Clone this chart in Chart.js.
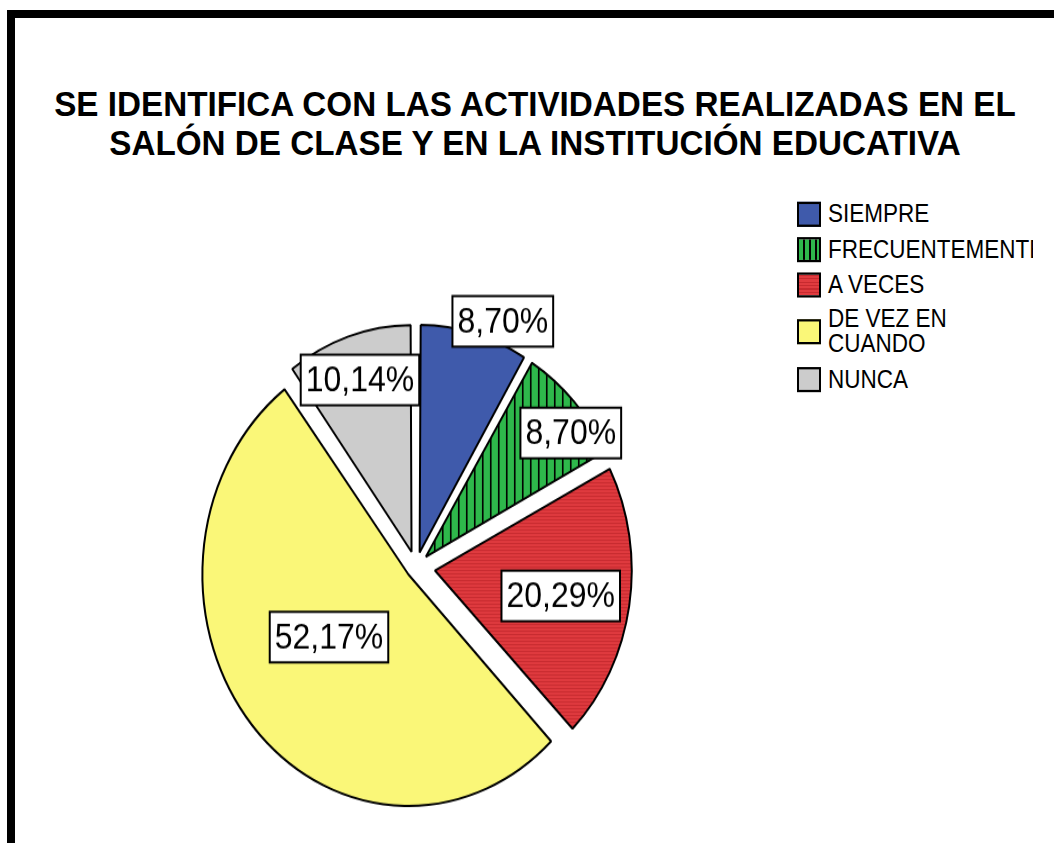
<!DOCTYPE html>
<html>
<head>
<meta charset="utf-8">
<script src="https://cdn.jsdelivr.net/npm/chart.js@4.4.1/dist/chart.umd.min.js"></script>
<style>
    html, body { margin: 0; padding: 0; background: #fff; overflow: hidden; }
    body { width: 1054px; height: 843px; position: relative; }
    #frame { position: absolute; left: 7px; top: 10px; right: -20px; bottom: -20px; border-top: 8px solid #000; border-left: 8px solid #000; }
    /* text is stretched vertically, like the original export */
    #stage { position: absolute; left: 0; top: 0; width: 1054px; height: 740px; transform: scaleY(1.14); transform-origin: 0 0; }
    #title { position: absolute; left: 0; top: 75px; width: 1070px; text-align: center; font: bold 30.5px "Liberation Sans", Arial, sans-serif; line-height: 33.5px; color: #000; transform: scaleX(1.09); transform-origin: 535px 0; }
    #chartBox { position: absolute; left: 0; top: 0; width: 1054px; height: 760px; transform: scaleY(1.124); transform-origin: 0 0; }
    #legend { position: absolute; left: 797px; top: 173px; width: 236px; overflow: hidden; font: 22.5px "Liberation Sans", Arial, sans-serif; color: #000; }
    .row { display: flex; align-items: center; padding: 4.35px 0; line-height: 22px; }
    .sw { flex: none; width: 20px; height: 18px; border: 2px solid #000; margin-right: 7px; }
    .txt { max-width: 140px; white-space: normal; }
    .txt.one { white-space: nowrap; }
</style>
</head>
<body>
<div id="frame"></div>
<div id="stage">
    <div id="title">SE IDENTIFICA CON LAS ACTIVIDADES REALIZADAS EN EL<br>SALÓN DE CLASE Y EN LA INSTITUCIÓN EDUCATIVA</div>
    <div id="legend"></div>
</div>
<div id="chartBox"><canvas id="pieChart"></canvas></div>
<script>
// --- DATA ---
const categories = ['SIEMPRE', 'FRECUENTEMENTE', 'A VECES', 'DE VEZ EN CUANDO', 'NUNCA'];
const percents = [8.70, 8.70, 20.29, 52.17, 10.14];

// --- LOOK ---
const baseColors = ['#3f5aab', '#2eb84b', '#e03b3f', '#faf778', '#cccccc'];
const GAP = 20;                                       // px each slice is pulled out
const labelReach = [1.2, 0.997, 0.75, 0.546, 0.896];  // label distance / radius
const labelTurn = [6.0, 5.4, 0.9, 4.8, -0.35];        // degrees off the slice middle

function makePattern(kind, base) {
    const c = document.createElement('canvas');
    const g = c.getContext('2d');
    if (kind === 'v') {
        c.width = 8; c.height = 8;
        g.fillStyle = base; g.fillRect(0, 0, 8, 8);
        g.fillStyle = '#000'; g.fillRect(0, 0, 1.6, 8);
    } else {
        c.width = 4; c.height = 3;
        g.fillStyle = base; g.fillRect(0, 0, 4, 3);
        g.fillStyle = '#c72a2f'; g.fillRect(0, 0, 4, 1);
    }
    return g.createPattern(c, 'repeat');
}

const fills = baseColors.slice();
fills[1] = makePattern('v', baseColors[1]);
fills[2] = makePattern('h', baseColors[2]);

const fmt = v => v.toFixed(2).replace('.', ',') + '%';

// --- LEGEND (html) ---
const legendEl = document.getElementById('legend');
const swatchCss = [
    baseColors[0],
    `repeating-linear-gradient(90deg, ${baseColors[1]} 0 4px, #000 4px 6px)`,
    `repeating-linear-gradient(0deg, ${baseColors[2]} 0 2px, #c72a2f 2px 3px)`,
    baseColors[3],
    baseColors[4]
];
categories.forEach((cat, i) => {
    const row = document.createElement('div');
    row.className = 'row';
    const one = cat.indexOf(' ') < 0 ? ' one' : '';
    row.innerHTML = `<span class="sw" style="background:${swatchCss[i]}"></span><span class="txt${one}">${cat}</span>`;
    legendEl.appendChild(row);
});

// --- BOXED PERCENT LABELS ---
const boxLabels = {
    id: 'boxLabels',
    afterDatasetsDraw(chart) {
        const ctx = chart.ctx;
        const arcs = chart.getDatasetMeta(0).data;
        ctx.save();
        ctx.font = '32px "Liberation Sans", Arial, sans-serif';
        ctx.textAlign = 'center';
        ctx.textBaseline = 'middle';
        arcs.forEach((arc, i) => {
            const mid = (arc.startAngle + arc.endAngle) / 2 + labelTurn[i] * Math.PI / 180;
            const dist = arc.outerRadius * labelReach[i];
            const x = arc.x + Math.cos(mid) * dist;
            const y = arc.y + Math.sin(mid) * dist;
            const text = fmt(percents[i]);
            const w = ctx.measureText(text).width + 10;
            const h = 45;
            ctx.fillStyle = '#fff';
            ctx.fillRect(x - w / 2, y - h / 2, w, h);
            ctx.lineWidth = 2;
            ctx.strokeStyle = '#000';
            ctx.strokeRect(x - w / 2, y - h / 2, w, h);
            ctx.fillStyle = '#000';
            ctx.fillText(text, x, y + 1);
        });
        ctx.restore();
    }
};

// --- CHART ---
const ctx = document.getElementById('pieChart').getContext('2d');
new Chart(ctx, {
    type: 'pie',
    data: {
        labels: categories,
        datasets: [{
            data: percents,
            backgroundColor: fills,
            borderColor: '#000',
            borderWidth: 2,
            // chart.js shrinks the offset for wide slices, undo that so every gap is GAP
            offset: (c) => {
                const circ = percents[c.dataIndex] / 100 * 2 * Math.PI;
                const fix = 1 - Math.sin(Math.min(Math.PI, circ));
                return GAP * 4 / (1 + fix);
            }
        }]
    },
    options: {
        responsive: true,
        maintainAspectRatio: false,
        animation: false,
        events: [],
        radius: 196,
        layout: { padding: { left: 0, right: 222, top: 249, bottom: 0 } },
        plugins: {
            legend: { display: false },
            tooltip: { enabled: false }
        }
    },
    plugins: [boxLabels]
});
</script>
</body>
</html>
